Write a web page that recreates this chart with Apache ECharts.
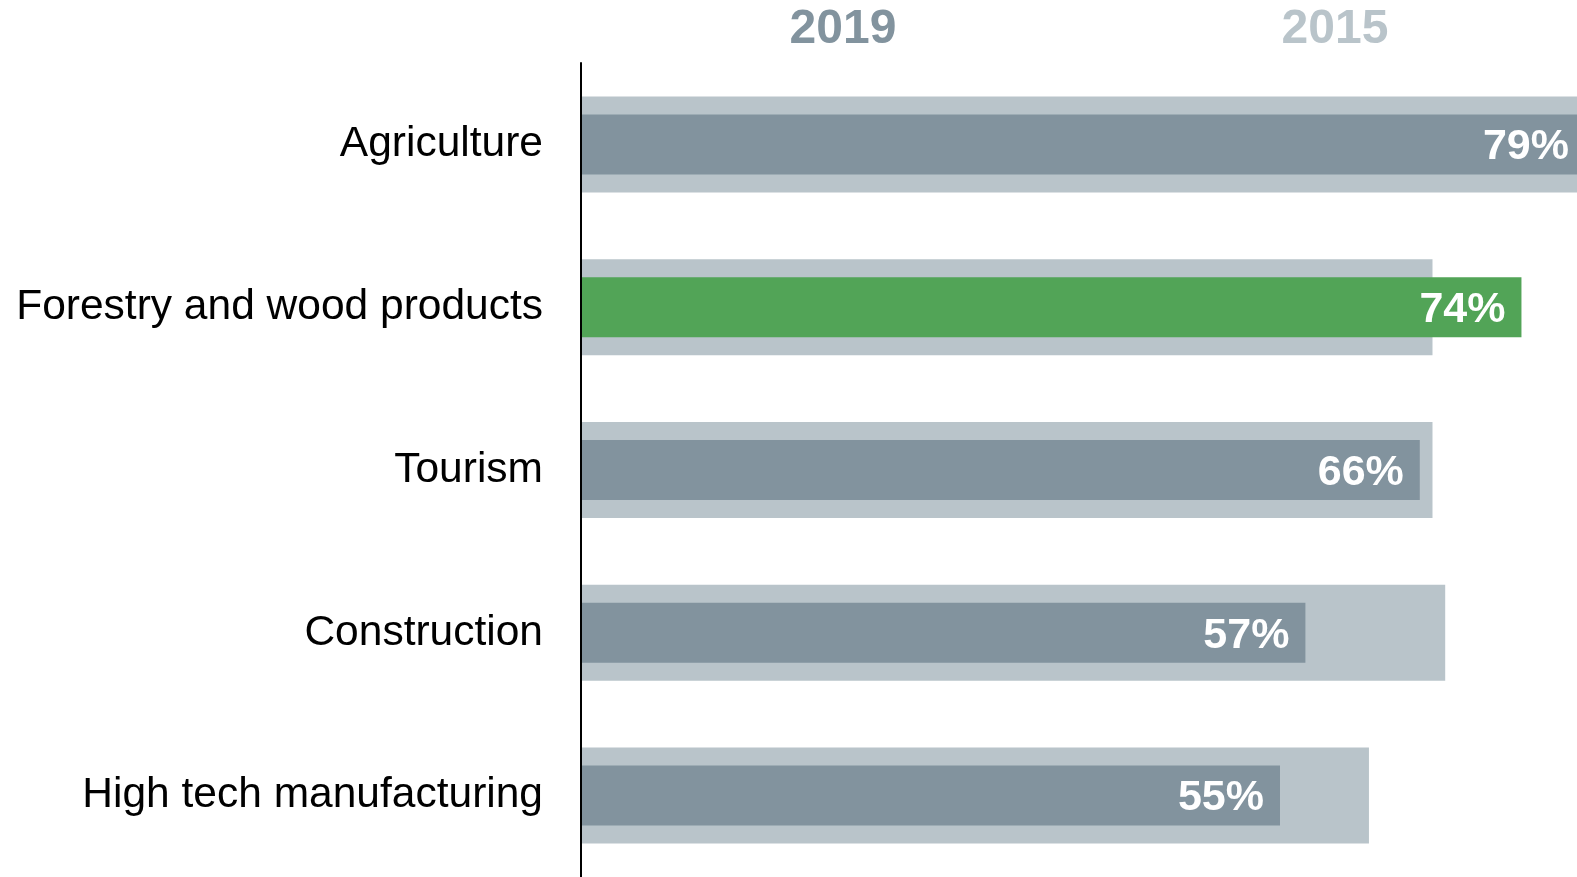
<!DOCTYPE html>
<html>
<head>
<meta charset="utf-8">
<title>Sector share, 2019 vs 2015</title>
<script src="https://cdn.jsdelivr.net/npm/echarts@6/dist/echarts.min.js"></script>
<style>
  html, body { margin: 0; padding: 0; background: #ffffff; overflow: hidden; }
  /* The plot runs slightly past the right edge of the page, so the longest bars are cut off there */
  #chart { width: 1585px; height: 877px; }
</style>
</head>
<body>
<div id="chart"></div>
<script>
// Sectors, top to bottom
const categories = [
  'Agriculture',
  'Forestry and wood products',
  'Tourism',
  'Construction',
  'High tech manufacturing'
];
// Share in 2019 (front bars, labelled)
const values2019 = [79, 74, 66, 57, 55];
// Share in 2015 (wider background bars)
const values2015 = [82, 67, 67, 68, 62];
// Sector drawn in the highlight colour
const highlighted = 'Forestry and wood products';

const COLOR_2019 = '#82939e';
const COLOR_2015 = '#b9c4ca';
const COLOR_HIGHLIGHT = '#52a457';
const FONT = '"Liberation Sans", Arial, sans-serif';

const chart = echarts.init(document.getElementById('chart'), null, { renderer: 'canvas' });

// Both category axes share the same bands so each bar sits centred in its row
const hiddenCategoryAxis = {
  type: 'category', data: categories, inverse: true, show: false
};

chart.setOption({
  animation: false,
  backgroundColor: '#ffffff',
  title: [
    {
      text: '2019', left: 838, top: 1, textAlign: 'center',
      textStyle: { fontFamily: FONT, fontSize: 48, fontWeight: 'bold', color: COLOR_2019 }
    },
    {
      text: '2015', left: 1330, top: 1, textAlign: 'center',
      textStyle: { fontFamily: FONT, fontSize: 48, fontWeight: 'bold', color: COLOR_2015 }
    }
  ],
  grid: { left: 581, right: 0, top: 63, height: 816, containLabel: false },
  xAxis: {
    type: 'value', min: 0, max: 79,
    axisLine: { show: false }, axisTick: { show: false },
    axisLabel: { show: false }, splitLine: { show: false }
  },
  yAxis: [
    {
      type: 'category', data: categories, inverse: true,
      axisLine: { show: true, lineStyle: { color: '#000000', width: 2 } },
      axisTick: { show: false },
      axisLabel: {
        fontFamily: FONT, fontSize: 42.5, color: '#000000', margin: 38,
        padding: [4, 0, 0, 0]
      },
      z: 5
    },
    hiddenCategoryAxis
  ],
  series: [
    {
      name: '2015', type: 'bar', data: values2015, yAxisIndex: 0,
      barWidth: 96, z: 1,
      itemStyle: { color: COLOR_2015 },
      silent: true
    },
    {
      name: '2019', type: 'bar', yAxisIndex: 1, z: 2,
      data: values2019.map((v, i) => ({
        value: v,
        itemStyle: { color: categories[i] === highlighted ? COLOR_HIGHLIGHT : COLOR_2019 }
      })),
      barWidth: 60,
      label: {
        show: true, position: 'insideRight', distance: 16, offset: [0, 3],
        formatter: '{c}%',
        fontFamily: FONT, fontSize: 43, fontWeight: 'bold', color: '#ffffff'
      },
      silent: true
    }
  ]
});
</script>
</body>
</html>
